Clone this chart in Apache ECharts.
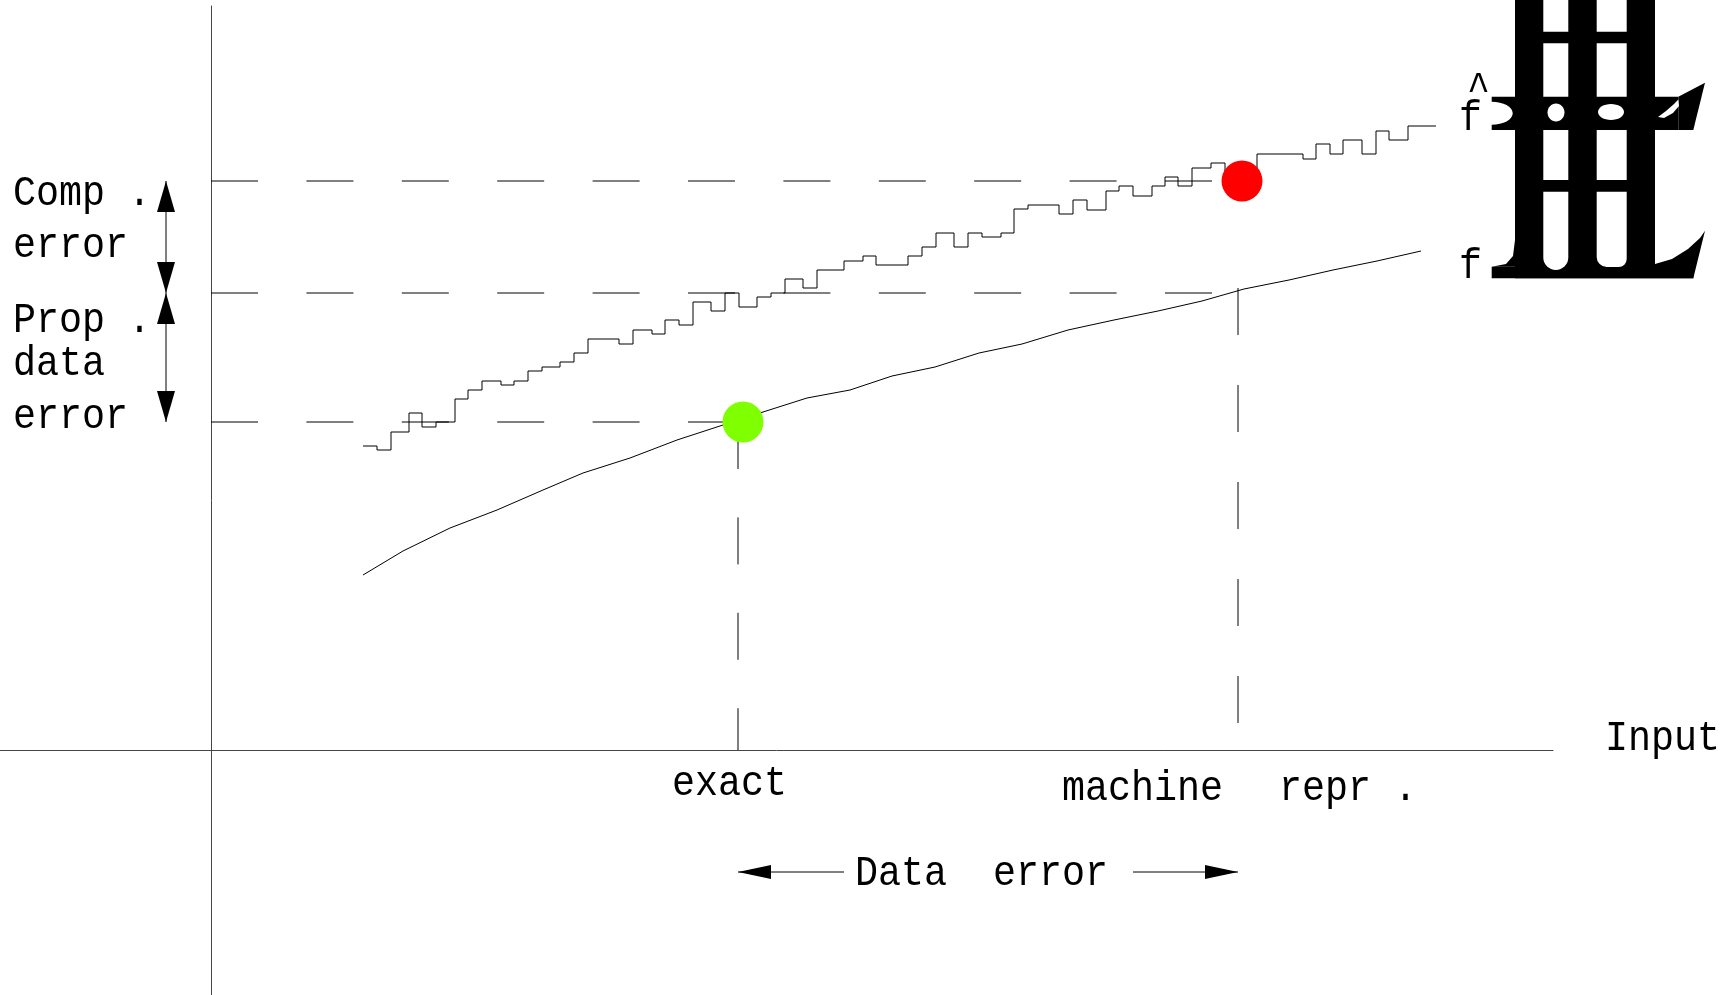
<!DOCTYPE html>
<html>
<head>
<meta charset="utf-8">
<style>
  html, body { margin: 0; padding: 0; background: #fff; }
  #chart { width: 1733px; height: 995px; }
</style>
<script src="https://cdn.jsdelivr.net/npm/echarts@6/dist/echarts.min.js"></script>
</head>
<body>
<div id="chart"></div>
<script>
// ---------------- data ----------------
// exact function f (smooth curve)
const fX = [1.52,1.92,2.39,2.86,3.32,3.72,4.19,4.66,5.12,5.52,5.96,6.39,6.81,7.24,7.68,8.11,8.57,9.03,9.47,9.91,10.33,10.78,11.22,11.66,12.10];
const fY = [1.75,1.99,2.22,2.40,2.60,2.77,2.92,3.10,3.25,3.38,3.52,3.60,3.74,3.83,3.97,4.06,4.20,4.30,4.39,4.49,4.61,4.70,4.80,4.89,4.99];
// computed function f-hat (staircase, value of each step from its start)
const fhatX = [1.52,1.66,1.80,1.98,2.11,2.25,2.44,2.57,2.71,2.90,3.03,3.17,3.31,3.49,3.63,3.77,4.08,4.22,4.41,4.54,4.68,4.82,5.00,5.14,5.28,5.46,5.60,5.74,5.92,6.06,6.33,6.52,6.65,6.97,7.11,7.25,7.43,7.57,7.71,7.90,8.03,8.17,8.48,8.62,8.76,8.95,9.08,9.22,9.41,9.54,9.67,9.81,10.00,10.14,10.46,10.92,11.05,11.19,11.32,11.51,11.65,11.78,11.97,12.25];
const fhatY = [3.04,3.00,3.18,3.37,3.23,3.28,3.51,3.60,3.69,3.65,3.69,3.79,3.83,3.88,3.97,4.11,4.06,4.20,4.16,4.30,4.25,4.48,4.39,4.57,4.43,4.53,4.57,4.71,4.62,4.80,4.89,4.94,4.85,4.94,5.03,5.17,5.03,5.17,5.13,5.17,5.41,5.45,5.36,5.50,5.40,5.59,5.64,5.54,5.64,5.73,5.64,5.82,5.87,5.69,5.96,5.91,6.06,5.96,6.10,5.96,6.19,6.10,6.24,6.24];

// key inputs and outputs
const exactInput = 5.27;
const machineInput = 10.27;
const fExact = 3.28;
const fMachine = 4.57;
const fhatMachine = 5.69;
const exactMarker = [5.32, 3.28];
const computedMarker = [10.31, 5.69];
const machineGuideTop = 4.62;
const machineGuideBottom = 0.26;

// annotation arrows
const errorArrowX = -0.45;
const dataErrorY = -1.22;
const dataErrorGapLeft = 6.33;
const dataErrorGapRight = 9.22;

// axis extents
const xRange = [-2.11, 13.42];
const yRange = [-2.45, 7.44];

// texts
const leftLabels = ['Comp .', 'error', 'Prop .', 'data', 'error'];
const exactLabel = 'exact';
const machineLabel = ['machine', 'repr .'];
const dataErrorLabel = 'Data  error';
const inputLabel = 'Input';

// ---------------- chart ----------------
const chart = echarts.init(document.getElementById('chart'), null, { renderer: 'canvas' });

const zip = (a, b) => a.map((v, i) => [v, b[i]]);

const dashH = { color: '#000', width: 1, type: [47, 48.4] };
const dashVExact = { color: '#000', width: 1, type: [47, 48.4] };
const dashVMachine = { color: '#000', width: 1, type: [47, 50] };

function guide(data, style) {
  return { type: 'line', data, symbol: 'none', silent: true, lineStyle: style, z: 1, animation: false };
}

function arrowRender(headLen, headW, both) {
  return function (params, api) {
    const a = api.coord([api.value(0), api.value(1)]);
    const b = api.coord([api.value(2), api.value(3)]);
    const head = (tip, from) => {
      const dx = tip[0] - from[0], dy = tip[1] - from[1];
      const L = Math.hypot(dx, dy) || 1;
      const ux = dx / L, uy = dy / L;
      const bx = tip[0] - ux * headLen, by = tip[1] - uy * headLen;
      return {
        type: 'polygon',
        shape: { points: [[tip[0], tip[1]], [bx - uy * headW / 2, by + ux * headW / 2], [bx + uy * headW / 2, by - ux * headW / 2]] },
        style: { fill: '#000' }
      };
    };
    const children = [
      { type: 'line', shape: { x1: a[0], y1: a[1], x2: b[0], y2: b[1] }, style: { stroke: '#000', lineWidth: 1 } },
      head(b, a)
    ];
    if (both) children.push(head(a, b));
    return { type: 'group', children };
  };
}

const FONT = '"Liberation Mono", "Courier New", monospace';
const FS = 42;
const SX = 0.913;
function txt(text, left, baseline, size, sx) {
  size = size || FS; sx = sx || SX;
  return {
    type: 'text', x: left, y: baseline - 0.27 * size, scaleX: sx, z: 10,
    style: { text, font: size + 'px ' + FONT, fill: '#000', textAlign: 'left', textVerticalAlign: 'middle', align: 'left', verticalAlign: 'middle' }
  };
}

// decorative big glyph at the top right
const B = '#000', W = '#fff';
const glyph = [
  { type: 'rect', shape: { x: 1515, y: -5, width: 140, height: 283.3 }, style: { fill: B } },
  { type: 'rect', shape: { x: 1491.7, y: 96.7, width: 186.6, height: 33.3 }, style: { fill: B } },
  { type: 'rect', shape: { x: 1491.7, y: 266.7, width: 201.6, height: 11.6 }, style: { fill: B } },
  { type: 'polygon', shape: { points: [[1678.3, 96.7], [1705, 82.7], [1693.3, 130], [1678.3, 130]] }, style: { fill: B } },
  { type: 'polygon', shape: { points: [[1655, 264], [1672, 259], [1688, 249], [1700, 238], [1705, 230.7], [1693.3, 278.3], [1655, 278.3]] }, style: { fill: B } },
  { type: 'polygon', shape: { points: [[1515, 240], [1513, 256], [1506, 264], [1491.7, 266.7], [1515, 266.7]] }, style: { fill: B } },
  // white gaps column 1
  { type: 'rect', shape: { x: 1543.3, y: -5, width: 25, height: 36.7 }, style: { fill: W } },
  { type: 'rect', shape: { x: 1543.3, y: 43.3, width: 25, height: 53.4 }, style: { fill: W } },
  { type: 'rect', shape: { x: 1543.3, y: 130, width: 25, height: 50 }, style: { fill: W } },
  { type: 'rect', shape: { x: 1543.3, y: 191.7, width: 25, height: 78.3, r: [0, 0, 12.5, 12.5] }, style: { fill: W } },
  // white gaps column 2
  { type: 'rect', shape: { x: 1596.7, y: -5, width: 30, height: 36.7 }, style: { fill: W } },
  { type: 'rect', shape: { x: 1596.7, y: 43.3, width: 30, height: 53.4 }, style: { fill: W } },
  { type: 'rect', shape: { x: 1596.7, y: 130, width: 30, height: 50 }, style: { fill: W } },
  { type: 'rect', shape: { x: 1596.7, y: 191.7, width: 30, height: 75.3, r: [0, 0, 8, 10] }, style: { fill: W } },
  // holes in the middle band
  { type: 'ellipse', shape: { cx: 1556, cy: 112.5, rx: 8.5, ry: 9 }, style: { fill: W } },
  { type: 'ellipse', shape: { cx: 1611, cy: 112, rx: 13, ry: 8 }, style: { fill: W } },
  { type: 'ellipse', shape: { cx: 1491.7, cy: 113.3, rx: 21, ry: 11.5 }, style: { fill: W } },
  { type: 'polygon', shape: { points: [[1658, 117], [1666, 111], [1674, 104], [1678.3, 99.5], [1679, 106], [1673, 113], [1664, 118]] }, style: { fill: W } }
].map(e => Object.assign(e, { z: 5, silent: true }));

const texts = [
  txt(leftLabels[0], 13, 205),
  txt(leftLabels[1], 13, 257),
  txt(leftLabels[2], 13, 332),
  txt(leftLabels[3], 13, 375),
  txt(leftLabels[4], 13, 428),
  txt(exactLabel, 672, 795),
  txt(machineLabel[0], 1062, 800),
  txt(machineLabel[1], 1279, 800),
  txt(dataErrorLabel, 855, 885),
  txt(inputLabel, 1605, 750),
  txt('f', 1459, 130),
  txt('^', 1467, 101),
  txt('f', 1459, 278)
];

const option = {
  animation: false,
  backgroundColor: '#fff',
  grid: { left: 0, right: 180, top: 6, bottom: 0, containLabel: false, outerBoundsMode: 'none' },
  xAxis: {
    type: 'value', min: xRange[0], max: xRange[1],
    axisLine: { show: true, onZero: true, lineStyle: { color: '#444', width: 1 } },
    axisTick: { show: false }, axisLabel: { show: false }, splitLine: { show: false }
  },
  yAxis: {
    type: 'value', min: yRange[0], max: yRange[1],
    axisLine: { show: true, onZero: true, lineStyle: { color: '#444', width: 1 } },
    axisTick: { show: false }, axisLabel: { show: false }, splitLine: { show: false }
  },
  series: [
    guide([[0, fhatMachine], [computedMarker[0], fhatMachine]], dashH),
    guide([[0, fMachine], [machineInput, fMachine]], dashH),
    guide([[0, fExact], [exactMarker[0], fExact]], dashH),
    guide([[exactInput, fExact], [exactInput, 0]], dashVExact),
    guide([[machineInput, machineGuideTop], [machineInput, machineGuideBottom]], dashVMachine),
    {
      name: 'f', type: 'line', data: zip(fX, fY), symbol: 'none', silent: true, z: 2,
      lineStyle: { color: '#000', width: 1 }
    },
    {
      name: 'fhat', type: 'line', step: 'end', data: zip(fhatX, fhatY), symbol: 'none', silent: true, z: 2,
      lineStyle: { color: '#000', width: 1 }
    },
    {
      type: 'scatter', data: [exactMarker], symbolSize: 41, z: 4, silent: true,
      itemStyle: { color: '#7fff00', opacity: 1 }
    },
    {
      type: 'scatter', data: [computedMarker], symbolSize: 41, z: 4, silent: true,
      itemStyle: { color: '#ff0000', opacity: 1 }
    },
    {
      type: 'custom', renderItem: arrowRender(31, 18, true), silent: true, clip: false, z: 3,
      encode: { x: [0, 2], y: [1, 3] },
      data: [
        [errorArrowX, fhatMachine, errorArrowX, fMachine],
        [errorArrowX, fMachine, errorArrowX, fExact]
      ]
    },
    {
      type: 'custom', renderItem: arrowRender(33, 14, false), silent: true, clip: false, z: 3,
      encode: { x: [0, 2], y: [1, 3] },
      data: [
        [dataErrorGapLeft, dataErrorY, exactInput, dataErrorY],
        [dataErrorGapRight, dataErrorY, machineInput, dataErrorY]
      ]
    }
  ],
  graphic: { elements: glyph.concat(texts) }
};

chart.setOption(option);
</script>
</body>
</html>
